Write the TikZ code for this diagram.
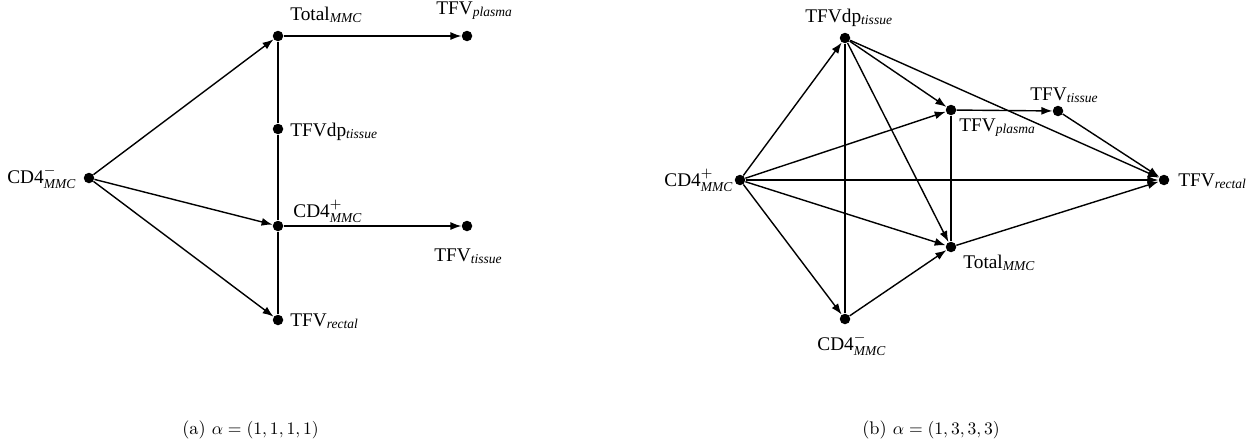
\documentclass[tikz,border=0pt]{standalone}
\usepackage{amsmath}
\usepackage{fontspec}
\usepackage{tikz}
\usetikzlibrary{arrows.meta,positioning}
\newfontfamily\lblfont{Liberation Serif}
\newcommand{\sbs}[1]{$_{\text{\itshape #1}}$}

\begin{document}
\begin{tikzpicture}[x=0.2mm, y=-0.2mm,
  >={Latex[length=2.2mm,width=1.6mm]},
  dot/.style={circle, fill=black, inner sep=0pt, minimum size=2.1mm},
  lbl/.style={anchor=base west, inner sep=0pt, font=\lblfont\fontsize{11}{13}\selectfont},
  captxt/.style={anchor=base west, inner sep=0pt, font=\fontsize{10.4}{12}\selectfont}]
  \useasboundingbox (0,0) rectangle (1255,445);

  % (a)
  \node (aCDm) [dot] at (89,178) {};
  \node (aTot) [dot] at (278,36) {};
  \node (aPla) [dot] at (467,36) {};
  \node (aDp) [dot] at (278,129) {};
  \node (aCDp) [dot] at (278,226) {};
  \node (aTis) [dot] at (467,226) {};
  \node (aRec) [dot] at (278,320) {};

  \node (aCDmL) [lbl] at (7,183) {CD4$^{-}_{\text{\itshape MMC}}$};
  \node (aTotL) [lbl] at (290,20) {Total\sbs{MMC}};
  \node (aPlaL) [lbl] at (436,14) {TFV\sbs{plasma}};
  \node (aDpL) [lbl] at (290,136) {TFVdp\sbs{tissue}};
  \node (aCDpL) [lbl] at (293,217) {CD4$^{+}_{\text{\itshape MMC}}$};
  \node (aTisL) [lbl] at (434,261) {TFV\sbs{tissue}};
  \node (aRecL) [lbl] at (290,326) {TFV\sbs{rectal}};

  \path [->] [thick]
  (aCDm) edge (aTot)
  (aCDm) edge (aCDp)
  (aCDm) edge (aRec)
  (aTot) edge (aPla)
  (aCDp) edge (aTis);
  \path [-] [thick]
  (aTot) edge (aDp)
  (aDp) edge (aCDp)
  (aCDp) edge (aRec);

  % (b)
  \node (bCDp) [dot] at (740,180) {};
  \node (bDp) [dot] at (845,38) {};
  \node (bPla) [dot] at (951,110) {};
  \node (bTis) [dot] at (1058,111) {};
  \node (bRec) [dot] at (1164,180) {};
  \node (bTot) [dot] at (951,247) {};
  \node (bCDm) [dot] at (845,319) {};

  \node (bCDpL) [lbl] at (664,186) {CD4$^{+}_{\text{\itshape MMC}}$};
  \node (bDpL) [lbl] at (805,22) {TFVdp\sbs{tissue}};
  \node (bPlaL) [lbl] at (959,131) {TFV\sbs{plasma}};
  \node (bTisL) [lbl] at (1030,100) {TFV\sbs{tissue}};
  \node (bRecL) [lbl] at (1178,186) {TFV\sbs{rectal}};
  \node (bTotL) [lbl] at (963,268) {Total\sbs{MMC}};
  \node (bCDmL) [lbl] at (817,350) {CD4$^{-}_{\text{\itshape MMC}}$};

  \path [->] [thick]
  (bCDp) edge (bDp)
  (bCDp) edge (bPla)
  (bCDp) edge (bRec)
  (bCDp) edge (bTot)
  (bCDp) edge (bCDm)
  (bDp) edge (bPla)
  (bDp) edge (bTot)
  (bDp) edge (bRec)
  (bPla) edge (bTis)
  (bTis) edge (bRec)
  (bTot) edge (bRec)
  (bCDm) edge (bTot);
  \path [-] [thick]
  (bDp) edge (bCDm)
  (bPla) edge (bTot);

  % captions
  \node (capA) [captxt] at (182,434) {(a) $\alpha=(1,1,1,1)$};
  \node (capB) [captxt] at (862,434) {(b) $\alpha=(1,3,3,3)$};
\end{tikzpicture}
\end{document}
